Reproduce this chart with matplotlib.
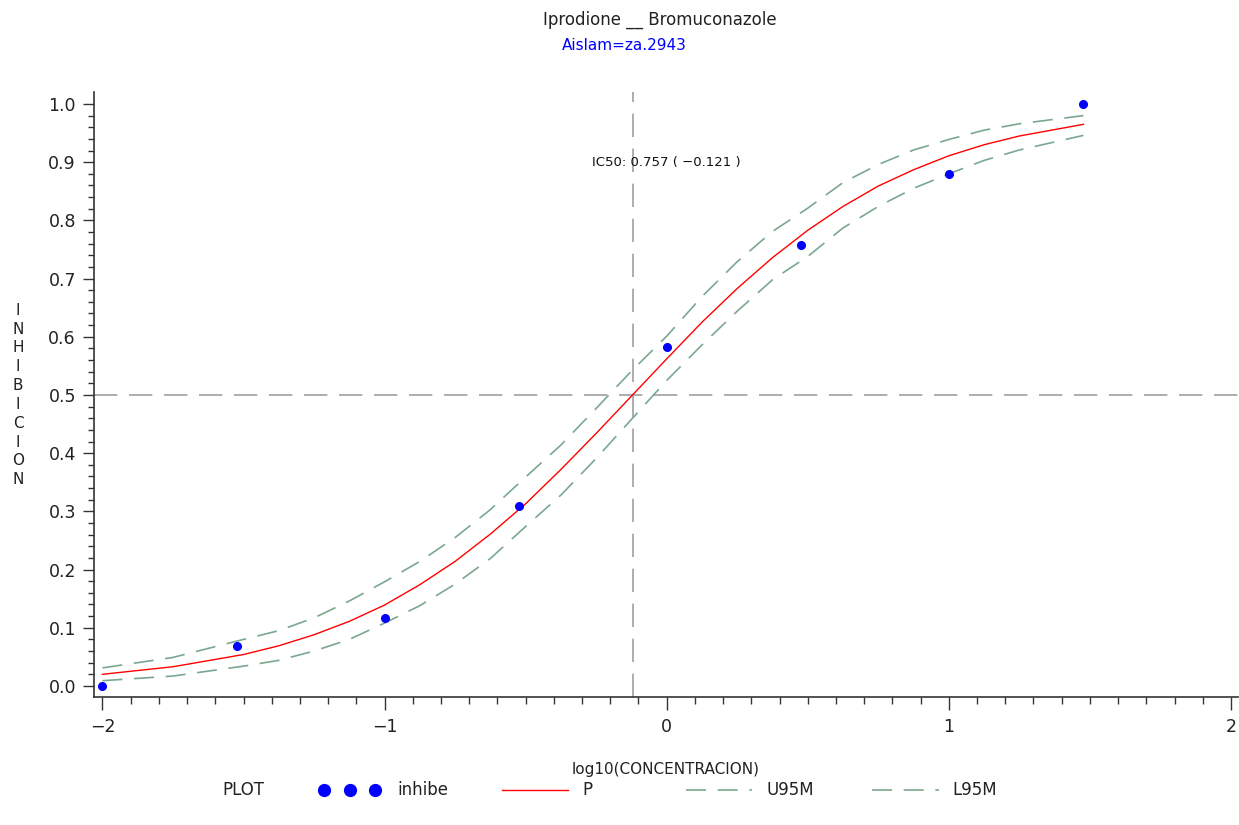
import matplotlib
matplotlib.use("Agg")
import matplotlib.pyplot as plt
from matplotlib.lines import Line2D

# observed points (log10 of concentration, inhibition)
obs_x = [-2.0, -1.523, -1.0, -0.523, 0.0, 0.477, 1.0, 1.477]
obs_inhibe = [0.0, 0.068, 0.116, 0.310, 0.583, 0.758, 0.880, 1.0]

# fitted curve and 95% bands
fit_x = [-2.0, -1.75, -1.5, -1.375, -1.25, -1.125, -1.0, -0.875, -0.75,
         -0.625, -0.5, -0.375, -0.25, -0.125, 0.0, 0.125, 0.25, 0.375,
         0.5, 0.625, 0.75, 0.875, 1.0, 1.125, 1.25, 1.477]
fit_p = [0.020, 0.033, 0.054, 0.069, 0.088, 0.111, 0.139, 0.174, 0.214,
         0.261, 0.313, 0.372, 0.434, 0.498, 0.562, 0.625, 0.683, 0.736,
         0.783, 0.824, 0.859, 0.887, 0.911, 0.930, 0.945, 0.965]
fit_u95 = [0.031, 0.049, 0.080, 0.095, 0.117, 0.146, 0.179, 0.214, 0.255,
           0.303, 0.359, 0.414, 0.477, 0.541, 0.601, 0.669, 0.729, 0.781,
           0.821, 0.865, 0.896, 0.921, 0.939, 0.955, 0.966, 0.980]
fit_l95 = [0.009, 0.017, 0.034, 0.044, 0.060, 0.080, 0.108, 0.138, 0.175,
           0.219, 0.274, 0.328, 0.391, 0.458, 0.525, 0.586, 0.644, 0.698,
           0.738, 0.787, 0.824, 0.855, 0.880, 0.903, 0.921, 0.946]

ic50 = 0.757
log_ic50 = -0.121

plt.rcParams['font.family'] = ['DejaVu Sans']
fig = plt.figure(figsize=(12.39, 8.25), dpi=100)
ax = fig.add_axes([94 / 1239, 128 / 825, 1144 / 1239, 605 / 825])

green = '#7aa88e'
ref_gray = '#a0a0a0'

ax.axhline(0.5, color=ref_gray, lw=1.2, dashes=(14, 7), zorder=1)
ax.axvline(log_ic50, color=ref_gray, lw=1.2, dashes=(14, 7), zorder=1)

ax.plot(fit_x, fit_u95, color=green, lw=1.2, dashes=(12, 7), zorder=2)
ax.plot(fit_x, fit_l95, color=green, lw=1.2, dashes=(12, 7), zorder=2)
ax.plot(fit_x, fit_p, color='#ff0000', lw=1.0, zorder=3)
ax.plot(obs_x, obs_inhibe, 'o', color='#0000ff', ms=5.5, zorder=4)

ax.text(0.0, 0.9, f'IC50: {ic50:.3f} ( {log_ic50:.3f} )'.replace('-', '\u2212'),
        ha='center', va='center', fontsize=9.5, color='#111111')

ax.set_xlim(-2.03, 2.025)
ax.set_ylim(-0.019, 1.0206)
ax.set_xticks([-2, -1, 0, 1, 2])
ax.set_xticks([i / 10 for i in range(-20, 21)], minor=True)
ax.set_yticks([i / 10 for i in range(0, 11)])
ax.set_yticklabels([f'{i / 10:.1f}' for i in range(0, 11)])
ax.set_yticks([i / 50 for i in range(0, 51)], minor=True)

for s in ('top', 'right'):
    ax.spines[s].set_visible(False)
for s in ('left', 'bottom'):
    ax.spines[s].set_color('#333333')
    ax.spines[s].set_linewidth(1.2)

ax.tick_params(axis='both', which='major', labelsize=12.5, color='#333333',
               width=1.0, labelcolor='#222222')
ax.tick_params(axis='x', which='major', length=9, pad=6)
ax.tick_params(axis='x', which='minor', length=5, width=1.0, color='#333333')
ax.tick_params(axis='y', which='major', length=8, pad=5)
ax.tick_params(axis='y', which='minor', length=4, width=1.0, color='#333333')

ax.set_xlabel('log10(CONCENTRACION)', fontsize=11, labelpad=19, color='#222222')

# stacked vertical y label
fig.text(18 / 1239, 1 - 395 / 825, '\n'.join('INHIBICION'), ha='center',
         va='center', fontsize=11, linespacing=1.32, color='#222222')

fig.text(660 / 1239, 1 - 20 / 825, 'Iprodione __ Bromuconazole', ha='center',
         va='center', fontsize=12, color='#222222')
fig.text(624 / 1239, 1 - 46 / 825, 'Aislam=za.2943', ha='center',
         va='center', fontsize=11, color='#0000ff')

# legend row
ly = 1 - 790 / 825
fs = 12
fig.text(222 / 1239, ly, 'PLOT', ha='left', va='center', fontsize=fs, color='#222222')
fig.add_artist(Line2D([324 / 1239, 350 / 1239, 375 / 1239], [ly] * 3,
                      transform=fig.transFigure, ls='none', marker='o',
                      color='#0000ff', ms=8.5))
fig.text(397 / 1239, ly, 'inhibe', ha='left', va='center', fontsize=fs, color='#222222')
fig.add_artist(Line2D([502 / 1239, 568 / 1239], [ly, ly], transform=fig.transFigure,
                      color='#ff0000', lw=1.0))
fig.text(582 / 1239, ly, 'P', ha='left', va='center', fontsize=fs, color='#222222')
fig.add_artist(Line2D([686 / 1239, 752 / 1239], [ly, ly], transform=fig.transFigure,
                      color=green, lw=1.2, dashes=(12, 7)))
fig.text(766 / 1239, ly, 'U95M', ha='left', va='center', fontsize=fs, color='#222222')
fig.add_artist(Line2D([872 / 1239, 939 / 1239], [ly, ly], transform=fig.transFigure,
                      color=green, lw=1.2, dashes=(12, 7)))
fig.text(952 / 1239, ly, 'L95M', ha='left', va='center', fontsize=fs, color='#222222')

fig.savefig('out.png', dpi=100)
